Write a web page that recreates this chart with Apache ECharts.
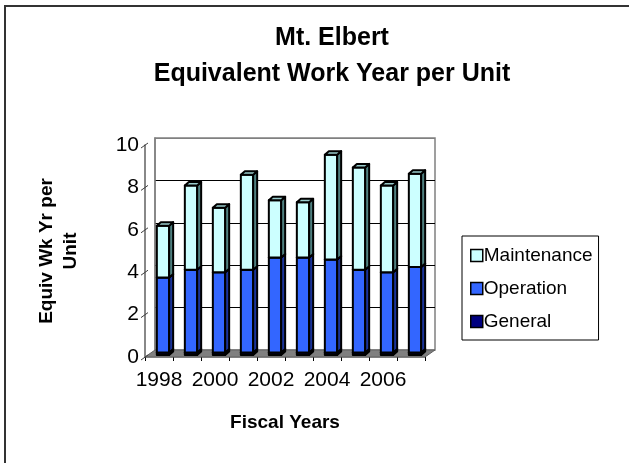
<!DOCTYPE html>
<html>
<head>
<meta charset="utf-8">
<script src="https://cdn.jsdelivr.net/npm/echarts@6/dist/echarts.min.js"></script>
<style>
  html, body { margin: 0; padding: 0; background: #fff; }
  #chart { width: 629px; height: 463px; }
</style>
</head>
<body>
<div id="chart"></div>
<script>
// values
const years = ['1998', '1999', '2000', '2001', '2002', '2003', '2004', '2005', '2006', '2007'];
const general = [0.12, 0.12, 0.12, 0.12, 0.12, 0.12, 0.12, 0.12, 0.12, 0.12];
const operation = [3.53, 3.9, 3.78, 3.9, 4.48, 4.48, 4.38, 3.9, 3.78, 4.03];
const maintenance = [2.45, 3.98, 3.05, 4.48, 2.7, 2.6, 4.95, 4.83, 4.1, 4.4];
const yTicks = [0, 2, 4, 6, 8, 10];

// 3d look
const WALL_DX = 10, WALL_DY = 7;
const BAR_DX = 4, BAR_DY = 3.5;
const BAR_SHIFT_X = 4, BAR_SHIFT_Y = -2;

const colors = {
  Maintenance: { front: '#CCFFFF', side: '#4F8080', top: '#99CCCC' },
  Operation: { front: '#3366FF', side: '#1A3399', top: '#2850D0' },
  General: { front: '#000080', side: '#000040', top: '#000060' }
};

// stack the segments: [index, base, top]
function stackData(list, below) {
  return list.map((v, i) => {
    const base = below.reduce((s, arr) => s + arr[i], 0);
    return [i, base, base + v];
  });
}

function bar3d(name) {
  const c = colors[name];
  return function (params, api) {
    const i = api.value(0);
    const lo = api.coord([i, api.value(1)]);
    const hi = api.coord([i, api.value(2)]);
    const band = api.size([1, 0])[0];
    const w = band * 0.44;
    const x = lo[0] - w / 2 + BAR_SHIFT_X;
    const yb = lo[1] + BAR_SHIFT_Y;
    const yt = hi[1] + BAR_SHIFT_Y;
    const line = { stroke: '#000', lineWidth: 2, lineJoin: 'round' };
    return {
      type: 'group',
      children: [
        { type: 'rect', shape: { x: x, y: yt, width: w, height: yb - yt },
          style: Object.assign({ fill: c.front }, line) },
        { type: 'polygon', shape: { points: [[x + w, yt], [x + w + BAR_DX, yt - BAR_DY], [x + w + BAR_DX, yb - BAR_DY], [x + w, yb]] },
          style: Object.assign({ fill: c.side }, line) },
        { type: 'polygon', shape: { points: [[x, yt], [x + BAR_DX, yt - BAR_DY], [x + w + BAR_DX, yt - BAR_DY], [x + w, yt]] },
          style: Object.assign({ fill: c.top }, line) }
      ]
    };
  };
}

const chart = echarts.init(document.getElementById('chart'));

const option = {
  animation: false,
  backgroundColor: '#fff',
  title: {
    text: 'Mt. Elbert\nEquivalent Work Year per Unit',
    left: 327,
    textAlign: 'center',
    top: 15,
    textStyle: { fontFamily: 'Liberation Sans', fontSize: 25, fontWeight: 'bold', color: '#000', lineHeight: 36 }
  },
  legend: {
    orient: 'vertical',
    left: 462,
    top: 236,
    data: ['Maintenance', 'Operation', 'General'],
    icon: 'rect',
    itemWidth: 12,
    itemHeight: 12,
    itemGap: 14,
    padding: [10, 6, 9, 8],
    borderColor: '#000',
    borderWidth: 1,
    itemStyle: { borderColor: '#000', borderWidth: 1.5 },
    textStyle: { fontFamily: 'Liberation Sans', fontSize: 19, color: '#000', padding: [0, 0, 0, -4] }
  },
  grid: [
    { left: 145, right: 204, top: 145, bottom: 106 },
    { left: 155, right: 194, top: 138, bottom: 113, show: true, borderColor: '#808080', borderWidth: 1.5 }
  ],
  xAxis: [
    {
      gridIndex: 0, type: 'category', data: years,
      axisLine: { lineStyle: { color: '#808080', width: 1.5 } },
      axisTick: { show: true, interval: 0, length: 4, lineStyle: { color: '#000' } },
      axisLabel: { interval: 1, fontFamily: 'Liberation Sans', fontSize: 21, color: '#000', margin: 13 },
      name: 'Fiscal Years', nameLocation: 'middle', nameGap: 56,
      nameTextStyle: { fontFamily: 'Liberation Sans', fontSize: 19, fontWeight: 'bold', color: '#000' }
    },
    {
      gridIndex: 1, type: 'category', data: years,
      axisLine: { show: false }, axisTick: { show: false }, axisLabel: { show: false }
    }
  ],
  yAxis: [
    {
      gridIndex: 0, type: 'value', min: 0, max: 10, interval: 2,
      axisLine: { show: true, lineStyle: { color: '#606060', width: 1.5 } },
      axisTick: { show: false },
      splitLine: { show: false },
      axisLabel: { fontFamily: 'Liberation Sans', fontSize: 21, color: '#000', margin: 6 },
      name: 'Equiv Wk Yr per\nUnit', nameLocation: 'middle', nameGap: 62, nameRotate: 90,
      nameTextStyle: { fontFamily: 'Liberation Sans', fontSize: 19, fontWeight: 'bold', color: '#000', lineHeight: 24 }
    },
    {
      gridIndex: 1, type: 'value', min: 0, max: 10, interval: 2,
      axisLine: { show: true, lineStyle: { color: '#808080', width: 1.5 } },
      axisTick: { show: false }, axisLabel: { show: false },
      splitLine: { show: true, lineStyle: { color: ['#808080', '#000', '#000', '#000', '#000', '#808080'], width: 1 } }
    }
  ],
  graphic: [
    { type: 'polyline', shape: { points: [[5, 463], [5, 6], [629, 6]] }, style: { stroke: '#333', lineWidth: 2, fill: null } }
  ],
  series: [
    {
      // floor of the 3d box
      type: 'custom', name: 'floor', xAxisIndex: 0, yAxisIndex: 0, silent: true, z: 1,
      data: [[0, 0]],
      renderItem: function (params, api) {
        const band = api.size([1, 0])[0];
        const a = api.coord([0, 0]);
        const b = api.coord([years.length - 1, 0]);
        const x0 = a[0] - band / 2, x1 = b[0] + band / 2, y = a[1];
        return {
          type: 'polygon',
          shape: { points: [[x0, y], [x1, y], [x1 + WALL_DX, y - WALL_DY], [x0 + WALL_DX, y - WALL_DY]] },
          style: { fill: '#808080', stroke: '#606060', lineWidth: 1 }
        };
      }
    },
    {
      // slanted tick marks on the front value axis
      type: 'custom', name: 'ticks', xAxisIndex: 0, yAxisIndex: 0, silent: true, z: 1,
      data: yTicks.map(v => [0, v]),
      renderItem: function (params, api) {
        const band = api.size([1, 0])[0];
        const p = api.coord([0, api.value(1)]);
        const x = p[0] - band / 2;
        return {
          type: 'line',
          shape: { x1: x - 4, y1: p[1] + 3, x2: x + 3, y2: p[1] - 2 },
          style: { stroke: '#404040', lineWidth: 1 }
        };
      }
    },
    {
      type: 'custom', name: 'General', xAxisIndex: 0, yAxisIndex: 0, z: 3,
      itemStyle: { color: colors.General.front },
      data: stackData(general, []),
      renderItem: bar3d('General')
    },
    {
      type: 'custom', name: 'Operation', xAxisIndex: 0, yAxisIndex: 0, z: 3,
      itemStyle: { color: colors.Operation.front },
      data: stackData(operation, [general]),
      renderItem: bar3d('Operation')
    },
    {
      type: 'custom', name: 'Maintenance', xAxisIndex: 0, yAxisIndex: 0, z: 3,
      itemStyle: { color: colors.Maintenance.front },
      data: stackData(maintenance, [general, operation]),
      renderItem: bar3d('Maintenance')
    }
  ]
};

chart.setOption(option);
</script>
</body>
</html>
